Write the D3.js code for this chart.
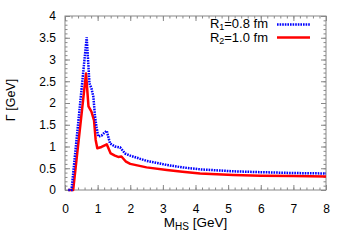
<!DOCTYPE html>
<html><head><meta charset="utf-8">
<script src="https://cdn.jsdelivr.net/npm/d3@7"></script>
<style>body{margin:0;background:#fff}svg{display:block}text{font-family:"Liberation Sans",Arial,sans-serif}</style>
</head><body><svg id="c" width="350" height="245"></svg>
<script>
const xR1 = [0.1, 0.2, 0.665, 0.75, 0.81, 0.87, 0.92, 0.97, 1.02, 1.12, 1.2, 1.28, 1.38, 1.53, 1.69, 1.84, 2.0, 2.5, 3.12, 3.6, 4.14, 5.16, 6.0, 7.0, 8.0];
const yR1 = [0, 0, 3.51, 2.45, 2.34, 2.14, 1.69, 1.43, 1.23, 1.25, 1.31, 1.36, 1.07, 1.0, 0.98, 0.84, 0.79, 0.67, 0.575, 0.52, 0.475, 0.43, 0.41, 0.39, 0.38];
const xR2 = [0.1, 0.25, 0.645, 0.72, 0.81, 0.89, 0.94, 0.99, 1.12, 1.28, 1.40, 1.53, 1.63, 1.73, 1.87, 2.0, 2.5, 3.12, 3.6, 4.14, 5.16, 6.0, 7.0, 8.0];
const yR2 = [0, 0, 2.68, 1.92, 1.8, 1.6, 1.15, 0.96, 0.99, 1.05, 0.84, 0.79, 0.76, 0.77, 0.65, 0.60, 0.52, 0.46, 0.42, 0.38, 0.345, 0.33, 0.32, 0.31];
const xTicks = [0,1,2,3,4,5,6,7,8];
const yTicks = [0,0.5,1,1.5,2,2.5,3,3.5,4];
const labels = ["R1=0.8 fm", "R2=1.0 fm"];

const svg = d3.select("#c");
const L=65, R=326, T=16, B=190;
const x = d3.scaleLinear().domain([0,8]).range([L,R]);
const y = d3.scaleLinear().domain([0,4]).range([B,T]);
const axCol = "#888";
const fs = 12;

const g = svg.append("g");
const xMinor = d3.range(0, 8.001, 0.2);
const yMinor = d3.range(0, 4.001, 0.1);
function styleAxis(sel){ sel.select(".domain").remove(); sel.selectAll("line").attr("stroke",axCol); sel.selectAll("text").remove(); }
g.append("g").attr("transform",`translate(0,${B})`).call(d3.axisTop(x).tickValues(xMinor).tickSize(2.5).tickFormat("")).call(styleAxis);
g.append("g").attr("transform",`translate(0,${T})`).call(d3.axisBottom(x).tickValues(xMinor).tickSize(2.5).tickFormat("")).call(styleAxis);
g.append("g").attr("transform",`translate(${L},0)`).call(d3.axisRight(y).tickValues(yMinor).tickSize(2.5).tickFormat("")).call(styleAxis);
g.append("g").attr("transform",`translate(${R},0)`).call(d3.axisLeft(y).tickValues(yMinor).tickSize(2.5).tickFormat("")).call(styleAxis);
g.append("g").attr("transform",`translate(0,${B})`).call(d3.axisTop(x).tickValues(xTicks).tickSize(5).tickFormat("")).call(styleAxis);
g.append("g").attr("transform",`translate(0,${T})`).call(d3.axisBottom(x).tickValues(xTicks).tickSize(5).tickFormat("")).call(styleAxis);
g.append("g").attr("transform",`translate(${L},0)`).call(d3.axisRight(y).tickValues(yTicks).tickSize(5).tickFormat("")).call(styleAxis);
g.append("g").attr("transform",`translate(${R},0)`).call(d3.axisLeft(y).tickValues(yTicks).tickSize(5).tickFormat("")).call(styleAxis);
g.append("rect").attr("x",L).attr("y",T).attr("width",R-L).attr("height",B-T).attr("fill","none").attr("stroke",axCol).attr("stroke-width",1);

const xa = svg.append("g").attr("transform",`translate(0,${B})`).call(d3.axisBottom(x).tickValues(xTicks).tickSize(0).tickPadding(14).tickFormat(d3.format("d")));
xa.select(".domain").remove();
xa.selectAll("text").attr("font-size",fs).attr("fill","#000").attr("font-family","Liberation Sans, Arial, sans-serif");
const ya = svg.append("g").attr("transform",`translate(${L},0)`).call(d3.axisLeft(y).tickValues(yTicks).tickSize(0).tickPadding(9).tickFormat(d=>String(d)));
ya.select(".domain").remove();
ya.selectAll("text").attr("font-size",fs).attr("fill","#000").attr("font-family","Liberation Sans, Arial, sans-serif");

const xt = svg.append("text").attr("x",(L+R)/2).attr("y",227).attr("text-anchor","middle").attr("font-size",13.5);
xt.append("tspan").text("M");
xt.append("tspan").attr("font-size",10).attr("dy",3).text("HS");
xt.append("tspan").attr("dy",-3).text(" [GeV]");
svg.append("text").attr("transform",`translate(15,100) rotate(-90)`).attr("text-anchor","middle").attr("font-size",12.5).text("Γ [GeV]");

svg.append("defs").append("clipPath").attr("id","cp").append("rect").attr("x",L).attr("y",T).attr("width",R-L).attr("height",B-T+2);
const line = d3.line().x(d=>x(d[0])).y(d=>y(d[1]));
const d1 = xR1.map((v,i)=>[v,yR1[i]]);
const d2 = xR2.map((v,i)=>[v,yR2[i]]);
const cg = svg.append("g").attr("clip-path","url(#cp)");
cg.append("path").datum(d2).attr("d",line).attr("fill","none").attr("stroke","#ff0000").attr("stroke-width",2.5).attr("stroke-linejoin","round");
cg.append("path").datum(d1).attr("d",line).attr("fill","none").attr("stroke","#0000ff").attr("stroke-width",2.5).attr("stroke-dasharray","1.6,1");

const leg = [{lab:labels[0], col:"#0000ff", dash:"1.6,1", ty:27.5, ly:24.5},{lab:labels[1], col:"#ff0000", dash:null, ty:41.5, ly:37.5}];
leg.forEach(l=>{
  const t = svg.append("text").attr("x",268).attr("y",l.ty).attr("text-anchor","end").attr("font-size",13);
  t.append("tspan").text(l.lab[0]);
  t.append("tspan").attr("font-size",9).attr("dy",2.5).text(l.lab[1]);
  t.append("tspan").attr("dy",-2.5).text(l.lab.slice(2));
  svg.append("line").attr("x1",277).attr("x2",310).attr("y1",l.ly).attr("y2",l.ly).attr("stroke",l.col).attr("stroke-width",2.5).attr("stroke-dasharray",l.dash);
});
</script></body></html>
